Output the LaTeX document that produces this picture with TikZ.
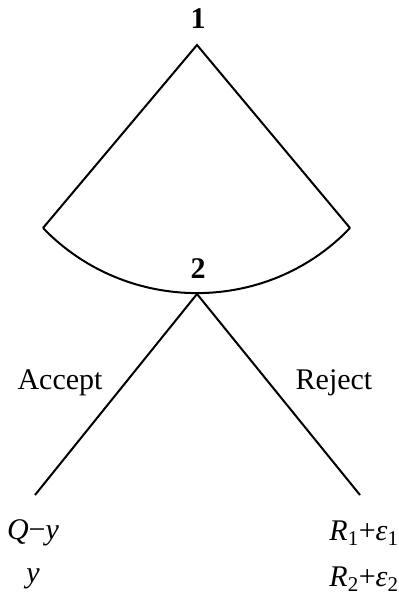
\documentclass[tikz,border=0pt]{standalone}
\usepackage{fontspec}
\setmainfont{Liberation Serif}
\usetikzlibrary{calc,positioning}

\begin{document}
\begin{tikzpicture}[x=1pt,y=-1pt,font=\fontsize{30}{34}\selectfont]
    \useasboundingbox (0,0) rectangle (399,603);
    \coordinate (n1) at (197,45);
    \coordinate (L) at (43,228);
    \coordinate (R) at (350,228);
    \coordinate (n2) at (197,294);
    \coordinate (A) at (35,495);
    \coordinate (B) at (360,495);
    \draw[line width=2pt] (L)--(n1)--(R);
    \draw[line width=2pt] (L) .. controls (126.8,314.8) and (267.2,314.8) .. (R);
    \draw[line width=2pt] (n2)--(A);
    \draw[line width=2pt] (n2)--(B);

    \node[font=\fontsize{30}{34}\selectfont\bfseries] (lab1) at (198,19) {1};
    \node[font=\fontsize{30}{34}\selectfont\bfseries] (lab2) at (198,269) {2};
    \node (acc) at (60,383) {Accept};
    \node (rej) at (334,383) {Reject};
    \node (pa1) at (33,533) {\textit{Q}−\textit{y}};
    \node (pa2) at (33,579) {\textit{y}};
    \node (pr1) at (364,533) {\textit{R}\textsubscript{1}+\textit{ε}\textsubscript{1}};
    \node (pr2) at (364,579) {\textit{R}\textsubscript{2}+\textit{ε}\textsubscript{2}};
\end{tikzpicture}
\end{document}
